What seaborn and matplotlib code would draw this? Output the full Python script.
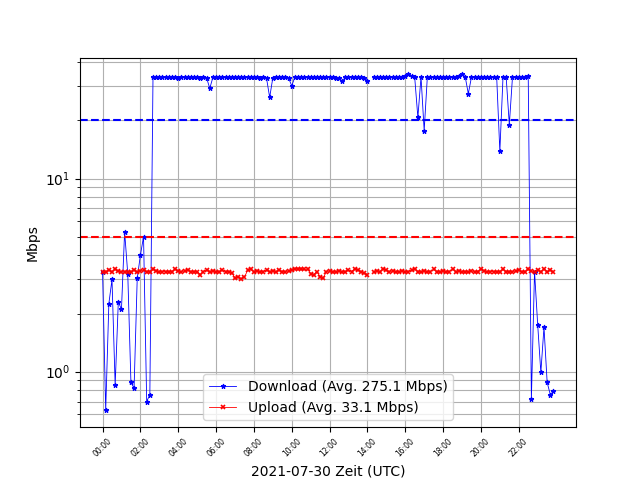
import numpy as np
import pandas as pd
import matplotlib
matplotlib.use("Agg")
import matplotlib.pyplot as plt
import matplotlib.dates as mdates
import seaborn as sns

nan = np.nan

# sample times: 2021-07-30, every 10 minutes
start_time = "2021-07-30 00:00"
n_samples = 144
interval = "10min"
tick_count = 12
tick_step = "2h"

download = [
    3.3, 0.63, 2.25, 3.0, 0.85, 2.3, 2.1, 5.3, 3.2, 0.88, 0.82, 3.05, 4.0, 5.0, 0.70, 0.76,
    33.5, 33.6, 33.4, 33.5, 33.7, 33.4, 33.6, 33.5, 33.3, 33.6, 33.5, 33.7, 33.4, 33.5, 33.6, 33.3, 33.5, 33.2,
    29.3,
    33.4, 33.6, 33.5, 33.7, 33.4, 33.6, 33.5, 33.4, 33.6, 33.5, 33.7, 33.5, 33.4, 33.6, 33.5, 33.3, 33.4, 33.1,
    26.3,
    33.2, 33.6, 33.5, 33.7, 33.5, 33.1,
    30.2,
    33.5, 33.6, 33.4, 33.7, 33.5, 33.6, 33.4, 33.5, 33.7, 33.6, 33.5, 33.4, 33.6, 33.3, 33.2,
    31.8,
    33.4, 33.6, 33.5, 33.7, 33.5, 33.4, 33.3,
    32.0,
    nan,
    33.4, 33.5, 33.6, 33.4, 33.7, 33.5, 33.6, 33.4, 33.5, 33.6, 33.8, 34.6, 33.9, 33.4,
    20.7,
    33.6,
    17.7,
    33.5, 33.4, 33.6, 33.5, 33.4, 33.6, 33.5, 33.5, 33.4, 33.6, 33.8, 34.6, 33.7,
    27.5,
    33.5, 33.6, 33.4, 33.5, 33.6, 33.4, 33.5, 33.6, 33.4,
    13.8,
    33.5, 33.6,
    19.0,
    33.4, 33.5, 33.6, 33.5, 33.4, 33.8,
    0.72, 3.3, 1.75, 0.99, 1.7, 0.88, 0.76, 0.79,
]

upload = [
    3.3, 3.3, 3.35, 3.3, 3.38, 3.32, 3.3, 3.28, 3.3, 3.3, 3.35, 3.3, 3.32, 3.36, 3.3, 3.3,
    3.38, 3.32, 3.3, 3.3, 3.3, 3.3, 3.3, 3.38, 3.33, 3.3, 3.32, 3.35, 3.3, 3.3, 3.3,
    3.18,
    3.3, 3.35, 3.3, 3.32, 3.3, 3.3, 3.35, 3.3, 3.3, 3.25,
    3.05, 3.1, 3.02, 3.08,
    3.35, 3.38, 3.3, 3.32, 3.3, 3.3, 3.35, 3.3, 3.32, 3.3, 3.35, 3.3, 3.3, 3.32, 3.35,
    3.4, 3.42, 3.4, 3.38, 3.4,
    3.22, 3.18,
    3.3,
    3.1, 3.06,
    3.3, 3.32, 3.3, 3.3, 3.32, 3.3, 3.3, 3.35, 3.3, 3.4, 3.35, 3.3, 3.25, 3.18,
    nan,
    3.3, 3.32, 3.3, 3.4, 3.35, 3.3, 3.32, 3.3, 3.3, 3.32, 3.3, 3.3, 3.35, 3.4, 3.3, 3.3,
    3.32, 3.3, 3.3, 3.38, 3.3, 3.3, 3.32, 3.3, 3.3, 3.4, 3.3, 3.32, 3.3, 3.3, 3.3, 3.32,
    3.3, 3.3, 3.4, 3.32, 3.3, 3.3, 3.3, 3.3, 3.3, 3.38, 3.3, 3.3, 3.3, 3.32, 3.35, 3.3,
    3.3, 3.38, 3.32, 3.3, 3.35, 3.3, 3.4, 3.3, 3.35, 3.3,
]

download_target = 20
upload_target = 5
download_label = "Download (Avg. 275.1 Mbps)"
upload_label = "Upload (Avg. 33.1 Mbps)"
x_label = "2021-07-30 Zeit (UTC)"
y_label = "Mbps"

assert len(download) == n_samples and len(upload) == n_samples

times = pd.date_range(start_time, periods=n_samples, freq=interval)
df = pd.DataFrame({"time": times, "download": download, "upload": upload})
# segments separated by missing values (so lines break at gaps)
df["seg"] = df["download"].isna().cumsum()
df = df.dropna()

fig, ax = plt.subplots(figsize=(6.4, 4.8), dpi=100)

sns.lineplot(data=df, x="time", y="download", units="seg", estimator=None,
             color="b", marker="*", markersize=3.5, markeredgewidth=0.8,
             markeredgecolor="b", markerfacecolor="b",
             linewidth=0.6, label=download_label, ax=ax)
sns.lineplot(data=df, x="time", y="upload", units="seg", estimator=None,
             color="r", marker="x", markersize=3, markeredgewidth=1.2,
             markeredgecolor="r", linewidth=0.6, label=upload_label, ax=ax)

ax.axhline(download_target, color="b", linestyle="--", linewidth=1.5)
ax.axhline(upload_target, color="r", linestyle="--", linewidth=1.5)

ax.set_yscale("log")
ax.set_xticks(pd.date_range(start_time, periods=tick_count, freq=tick_step))
ax.xaxis.set_major_formatter(mdates.DateFormatter("%H:%M"))
plt.setp(ax.get_xticklabels(), rotation=45, fontsize=5.5)
ax.grid(True, which="major", color="#b0b0b0", linewidth=0.8)
ax.grid(True, which="minor", axis="y", color="#b0b0b0", linewidth=0.8)
ax.set_xlabel(x_label)
ax.set_ylabel(y_label)

handles, labels = ax.get_legend_handles_labels()
seen = {}
for h, l in zip(handles, labels):
    if l not in seen:
        seen[l] = h
ax.legend(list(seen.values()), list(seen.keys()), loc="lower center")

fig.subplots_adjust(left=0.125, right=0.9, top=0.88, bottom=0.11)
fig.savefig("out.png", dpi=100)
